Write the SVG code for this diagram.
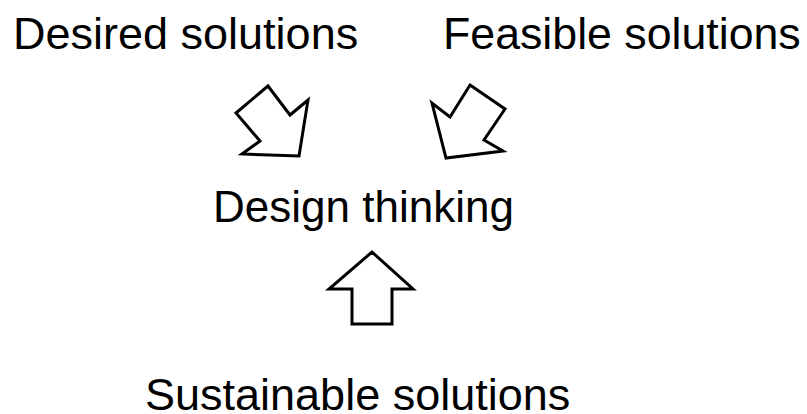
<svg xmlns="http://www.w3.org/2000/svg" width="807" height="414" viewBox="0 0 807 414">
<style>
.t{font-family:"Liberation Sans",Arial,sans-serif;font-size:44px;fill:#000}
.a{fill:#fff;stroke:#000;stroke-width:3;stroke-linejoin:miter}
</style>
<rect width="807" height="414" fill="#fff"/>
<g id="desired"><text class="t" x="13" y="49" style="font-size:45px">Desired solutions</text></g>
<g id="feasible"><text class="t" x="443" y="49" style="font-size:44.7px">Feasible solutions</text></g>
<g id="design"><text class="t" x="213" y="222">Design thinking</text></g>
<g id="sustainable"><text class="t" x="145" y="410" style="font-size:45px">Sustainable solutions</text></g>
<g id="connectors">
<polygon class="a" points="268,86 236,113 260,141 242,154 299,156 308,100 290,115"/>
<polygon class="a" points="470,85 505,109 484,140 503,151 446,158 432,103 450,117"/>
<polygon class="a" points="372,252 413,289 392,289 392,324 352,324 352,289 329,289"/>
</g>
</svg>
